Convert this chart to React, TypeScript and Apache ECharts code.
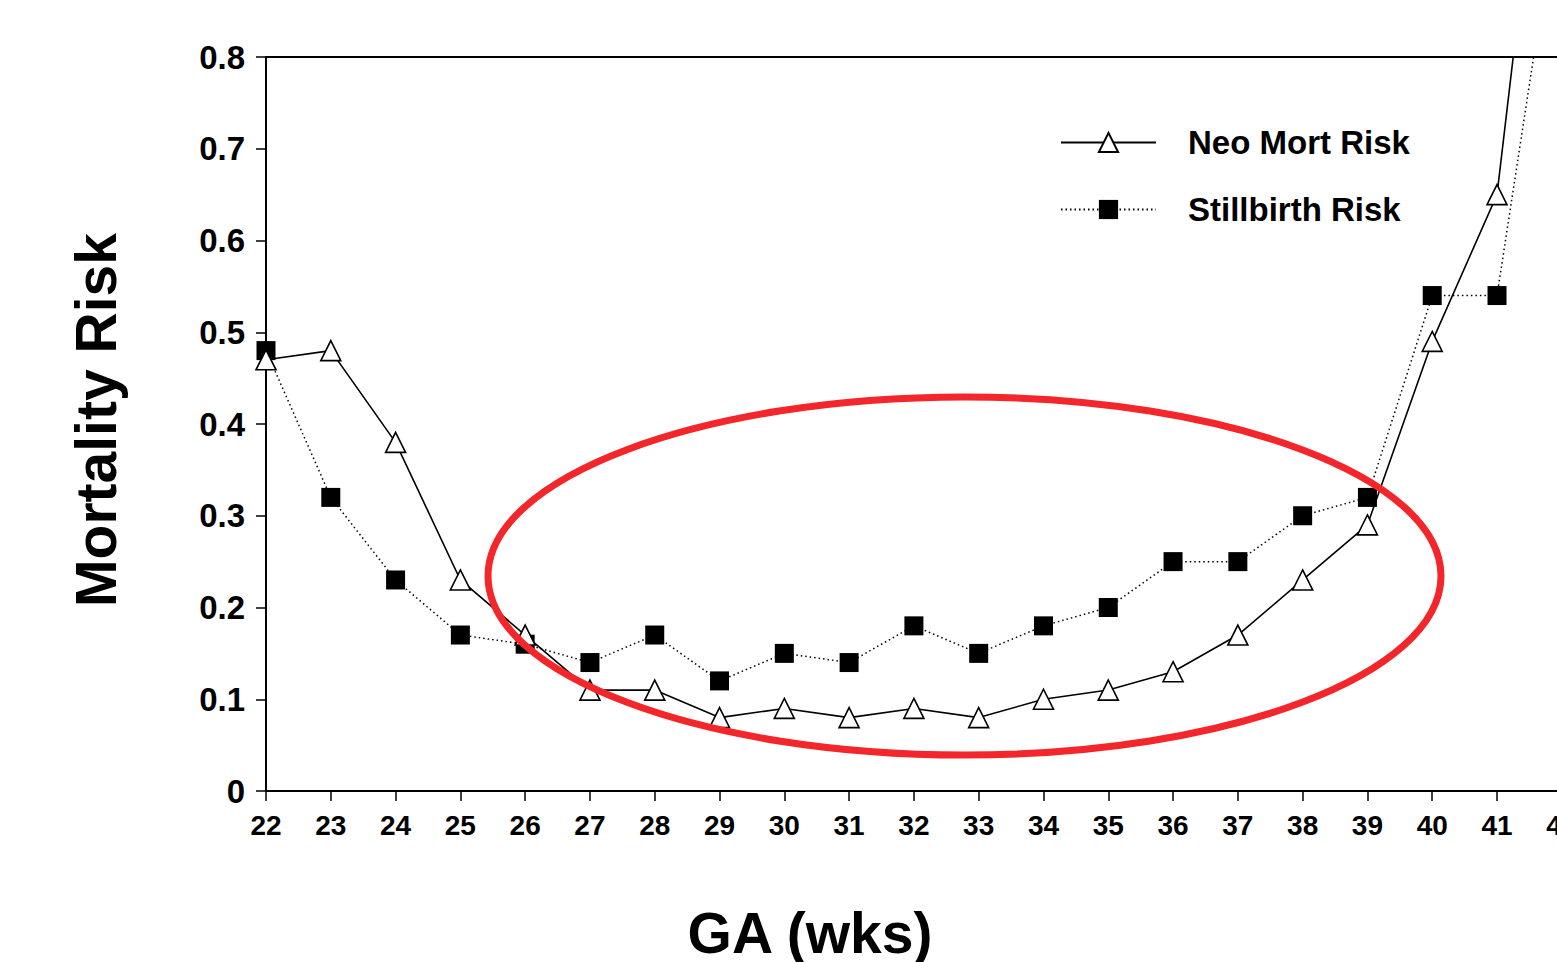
import React, { useEffect, useRef } from "react";
import * as echarts from "echarts";

const weeks = [22, 23, 24, 25, 26, 27, 28, 29, 30, 31, 32, 33, 34, 35, 36, 37, 38, 39, 40, 41, 42];
const neoMortRisk = [0.47, 0.48, 0.38, 0.23, 0.17, 0.11, 0.11, 0.08, 0.09, 0.08, 0.09, 0.08, 0.1, 0.11, 0.13, 0.17, 0.23, 0.29, 0.49, 0.65, 1.25];
const stillbirthRisk = [0.48, 0.32, 0.23, 0.17, 0.16, 0.14, 0.17, 0.12, 0.15, 0.14, 0.18, 0.15, 0.18, 0.2, 0.25, 0.25, 0.3, 0.32, 0.54, 0.54, 1.0];
const seriesNames = ["Neo Mort Risk", "Stillbirth Risk"];
const xTitle = "GA (wks)";
const yTitle = "Mortality Risk";

const FONT = "'Liberation Sans', Arial, sans-serif";

export default function App() {
  const ref = useRef<HTMLDivElement>(null);
  useEffect(() => {
    if (!ref.current) return;
    const chart = echarts.init(ref.current, undefined, { renderer: "svg" });
    const pair = (ys: number[]) => weeks.map((w, i) => [w, ys[i]]);
    chart.setOption({
      animation: false,
      backgroundColor: "#fff",
      grid: {
        left: 266,
        top: 57,
        width: 1295.8,
        height: 734,
        show: true,
        borderColor: "#000",
        borderWidth: 2,
        containLabel: false,
      },
      legend: {
        data: seriesNames,
        orient: "vertical",
        left: 1060,
        top: 126,
        padding: 0,
        itemWidth: 95,
        itemHeight: 24,
        itemGap: 34,
        textStyle: {
          fontFamily: FONT,
          fontWeight: "bold",
          fontSize: 33,
          color: "#000",
          padding: [0, 0, 0, 27],
        },
      },
      xAxis: {
        type: "value",
        min: 22,
        max: 42,
        interval: 1,
        axisLine: { show: true, onZero: false, lineStyle: { color: "#000", width: 2 } },
        axisTick: { show: true, length: 10, lineStyle: { color: "#000", width: 1.5 } },
        splitLine: { show: false },
        axisLabel: {
          color: "#000",
          fontFamily: FONT,
          fontWeight: "bold",
          fontSize: 28,
          margin: 20,
        },
      },
      yAxis: {
        type: "value",
        min: 0,
        max: 0.8,
        interval: 0.1,
        axisLine: { show: true, lineStyle: { color: "#000", width: 2 } },
        axisTick: { show: true, length: 10, lineStyle: { color: "#000", width: 1.5 } },
        splitLine: { show: false },
        axisLabel: {
          color: "#000",
          fontFamily: FONT,
          fontWeight: "bold",
          fontSize: 33,
          margin: 21,
        },
      },
      graphic: [
        {
          type: "ellipse",
          shape: { cx: 964.5, cy: 576, rx: 476.5, ry: 179 },
          style: { fill: "none", stroke: "#f2262b", lineWidth: 7 },
          z: 100,
        },
        {
          type: "text",
          x: 810,
          y: 933,
          style: {
            text: xTitle,
            fontFamily: FONT,
            fontWeight: "bold",
            fontSize: 57,
            fill: "#000",
            align: "center",
            verticalAlign: "middle",
          },
        },
        {
          type: "text",
          x: 96,
          y: 420,
          rotation: Math.PI / 2,
          style: {
            text: yTitle,
            fontFamily: FONT,
            fontWeight: "bold",
            fontSize: 57,
            fill: "#000",
            align: "center",
            verticalAlign: "middle",
          },
        },
      ],
      series: [
        {
          name: seriesNames[1],
          type: "line",
          data: pair(stillbirthRisk),
          color: "#000",
          symbol: "rect",
          symbolSize: 19,
          lineStyle: { color: "#000", width: 1.5, type: [1.5, 3] },
          itemStyle: { color: "#000" },
          z: 2,
        },
        {
          name: seriesNames[0],
          type: "line",
          data: pair(neoMortRisk),
          color: "#000",
          symbol: "triangle",
          symbolSize: 20,
          lineStyle: { color: "#000", width: 1.6, type: "solid" },
          itemStyle: { color: "#fff", borderColor: "#000", borderWidth: 1.6 },
          z: 3,
        },
      ],
    });
    return () => chart.dispose();
  }, []);
  return (
    <div
      style={{
        position: "fixed",
        left: 0,
        top: 0,
        width: 1557,
        height: 962,
        overflow: "hidden",
        background: "#fff",
      }}
    >
      <div ref={ref} style={{ width: 1600, height: 962 }} />
    </div>
  );
}
